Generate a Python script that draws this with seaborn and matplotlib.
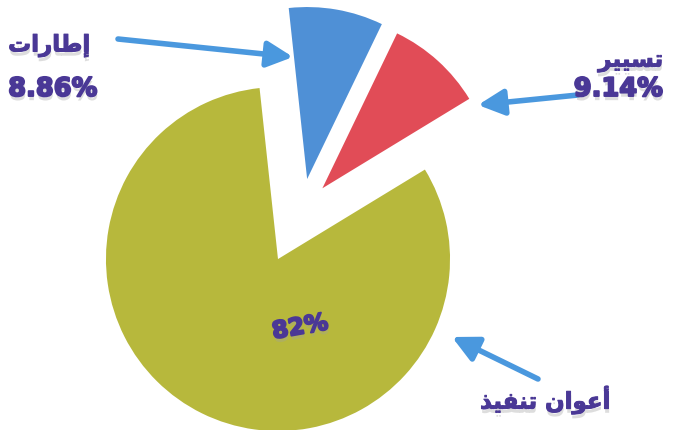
import matplotlib
matplotlib.use("Agg")
import matplotlib.pyplot as plt
import matplotlib.patheffects as pe
import seaborn as sns

# ---- data ----
categories = ["إطارات", "تسيير", "أعوان تنفيذ"]
# visual (shaped, left-to-right) forms of the Arabic labels for rendering
labels_visual = [
    "\uFE95\uFE8D\uFEAD\uFE8E\uFEC3\uFE87",                        # إطارات
    "\uFEAE\uFEF4\uFEF4\uFEB4\uFE97",                              # تسيير
    "\uFEAC\uFEF4\uFED4\uFEE8\uFE97 \uFEE5\uFE8D\uFEEE\uFECB\uFE83",  # أعوان تنفيذ
]
values = [8.86, 9.14, 82.0]
value_labels = ["8.86%", "9.14%", "82%"]
colors = ["#4f90d6", "#e14c57", "#b7b83c"]

sns.set_theme(style="white")
plt.rcParams["font.family"] = ["DejaVu Sans"]

W, H = 673, 431
fig = plt.figure(figsize=(W / 100, H / 100), dpi=100)
fig.patch.set_facecolor("white")
ax = fig.add_axes([0, 0, 1, 1])

ax.pie(values, colors=colors, startangle=96.15, counterclock=False,
       explode=[0.19, 0.18, 0.31], radius=1.0,
       wedgeprops=dict(linewidth=0))
ax.set_xlim(-1.753, 2.159)
ax.set_ylim(-1.272, 1.234)
ax.set_aspect("auto")
ax.axis("off")

purple = "#4a3896"


def effects(stroke):
    return [pe.SimplePatchShadow(offset=(0.5, -3), shadow_rgbFace="#a0a0a0", alpha=0.35),
            pe.Stroke(linewidth=stroke, foreground=purple),
            pe.Normal()]


def fpos(px, py):
    return px / W, 1 - py / H


def label(px, py, s, size=19, ha="center", rot=0, stroke=1.4):
    fig.text(*fpos(px, py), s, ha=ha, va="center", fontsize=size,
             fontweight="bold", color=purple, rotation=rot,
             path_effects=effects(stroke))


# labels
label(49, 47, labels_visual[0], size=16.5, stroke=0.7)
label(53, 90, value_labels[0], size=18.5)
label(663, 62, labels_visual[1], size=16.5, ha="right", stroke=0.7)
label(663, 90, value_labels[1], size=18.5, ha="right")
label(545, 401, labels_visual[2], size=16.5, stroke=0.7)
label(300, 328, value_labels[2], size=17, rot=10)

# arrows
arrow_color = "#4a98de"
arrows = [((118, 40), (293, 58)), ((578, 96), (478, 106)), ((538, 380), (452, 338))]
for (tx, ty), (hx, hy) in arrows:
    ax.annotate("", xy=fpos(hx, hy), xycoords="figure fraction",
                xytext=fpos(tx, ty), textcoords="figure fraction",
                arrowprops=dict(arrowstyle="-|>,head_length=1.3,head_width=0.65",
                                color=arrow_color, lw=4, shrinkA=0, shrinkB=0))

fig.savefig("out.png", dpi=100, facecolor="white")
